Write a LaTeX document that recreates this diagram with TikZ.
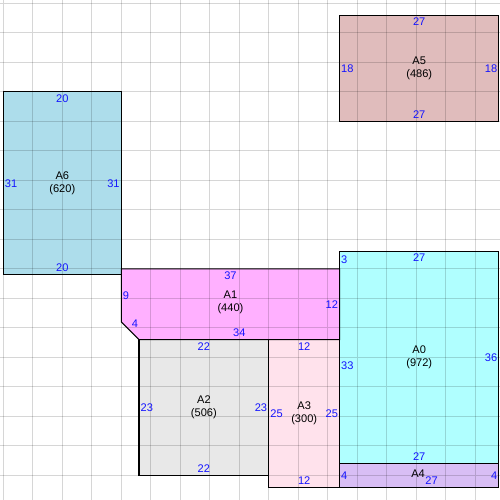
\documentclass[tikz,border=0pt]{standalone}
\usepackage{fontspec}
\setmainfont{Liberation Sans}

\definecolor{cA0}{RGB}{176,255,255}
\definecolor{cA1}{RGB}{255,176,255}
\definecolor{cA2}{RGB}{232,232,232}
\definecolor{cA3}{RGB}{255,226,236}
\definecolor{cA4}{RGB}{216,190,245}
\definecolor{cA5}{RGB}{224,188,188}
\definecolor{cA6}{RGB}{173,221,235}
\definecolor{lenblue}{RGB}{20,20,255}

\tikzset{
  room/.style={draw=black,line width=0.75pt},
  len/.style={text=lenblue,inner xsep=1pt,inner ysep=2pt},
  areaname/.style={align=center,text=black}
}

\begin{document}
\begin{tikzpicture}[x=0.15cm,y=-0.15cm,font=\fontsize{8}{9}\selectfont]
\useasboundingbox (-0.56,-0.56) rectangle (84.19,84.19);
\fill[white] (-0.56,-0.56) rectangle (84.19,84.19);

% fills
\foreach \r/\xa/\ya/\xb/\yb in {A0/57/42/84/78,A2/23/57/45/80,A3/45/57/57/82,A4/57/78/84/82,A5/57/2/84/20,A6/0/15/20/46}
  \fill[c\r] (\xa,\ya) rectangle (\xb,\yb);
\fill[cA1] (20,45) -- (57,45) -- (57,57) -- (23,57) -- (20,54) -- cycle;

% grid
\foreach \k in {0,5,...,80}
  \draw[black,opacity=0.16,line width=0.6pt] (\k,-0.56) -- (\k,84.19) (-0.56,\k) -- (84.19,\k);

% outlines
\foreach \r/\xa/\ya/\xb/\yb in {A0/57/42/84/78,A2/23/57/45/80,A3/45/57/57/82,A4/57/78/84/82,A5/57/2/84/20,A6/0/15/20/46}
  \draw[room] (\xa,\ya) rectangle (\xb,\yb);
\draw[room] (20,45) -- (57,45) -- (57,57) -- (23,57) -- (20,54) -- cycle;

% names
\node[areaname] (A0) at (70.5,60) {A0\\(972)};
\node[areaname] (A1) at (38.5,50.7) {A1\\(440)};
\node[areaname] (A2) at (34,68.5) {A2\\(506)};
\node[areaname] (A3) at (51,69.5) {A3\\(300)};
\node[areaname] (A4) at (70.3,79.7) {A4};
\node[areaname] (A5) at (70.5,11) {A5\\(486)};
\node[areaname] (A6) at (10,30.5) {A6\\(620)};

% side lengths
\node[len,anchor=north] (A6t) at (10,15) {20};
\node[len,anchor=south] (A6b) at (10,46) {20};
\node[len,anchor=west] (A6l) at (0,30.5) {31};
\node[len,anchor=east] (A6r) at (20,30.5) {31};

\node[len,anchor=north] (A5t) at (70.5,2) {27};
\node[len,anchor=south] (A5b) at (70.5,20) {27};
\node[len,anchor=west] (A5l) at (57,11) {18};
\node[len,anchor=east] (A5r) at (84,11) {18};

\node[len,anchor=north] (A1t) at (38.5,45) {37};
\node[len,anchor=west] (A1l) at (20,49.5) {9};
\node[len,anchor=south west] (A1d) at (21.5,55.5) {4};
\node[len,anchor=south] (A1b) at (40,57) {34};
\node[len,anchor=east] (A1r) at (57,51) {12};

\node[len,anchor=north] (A2t) at (34,57) {22};
\node[len,anchor=south] (A2b) at (34,80) {22};
\node[len,anchor=west] (A2l) at (23,68.5) {23};
\node[len,anchor=east] (A2r) at (45,68.5) {23};

\node[len,anchor=north] (A3t) at (51,57) {12};
\node[len,anchor=south] (A3b) at (51,82) {12};
\node[len,anchor=west] (A3l) at (45,69.5) {25};
\node[len,anchor=east] (A3r) at (57,69.5) {25};

\node[len,anchor=west] (A0u) at (57,43.5) {3};
\node[len,anchor=north] (A0t) at (70.5,42) {27};
\node[len,anchor=west] (A0l) at (57,61.5) {33};
\node[len,anchor=east] (A0r) at (84,60) {36};
\node[len,anchor=south] (A0b) at (70.5,78) {27};

\node[len,anchor=west] (A4l) at (57,80) {4};
\node[len,anchor=east] (A4r) at (84,80) {4};
\node[len,anchor=south] (A4b) at (72.6,82) {27};
\end{tikzpicture}
\end{document}
